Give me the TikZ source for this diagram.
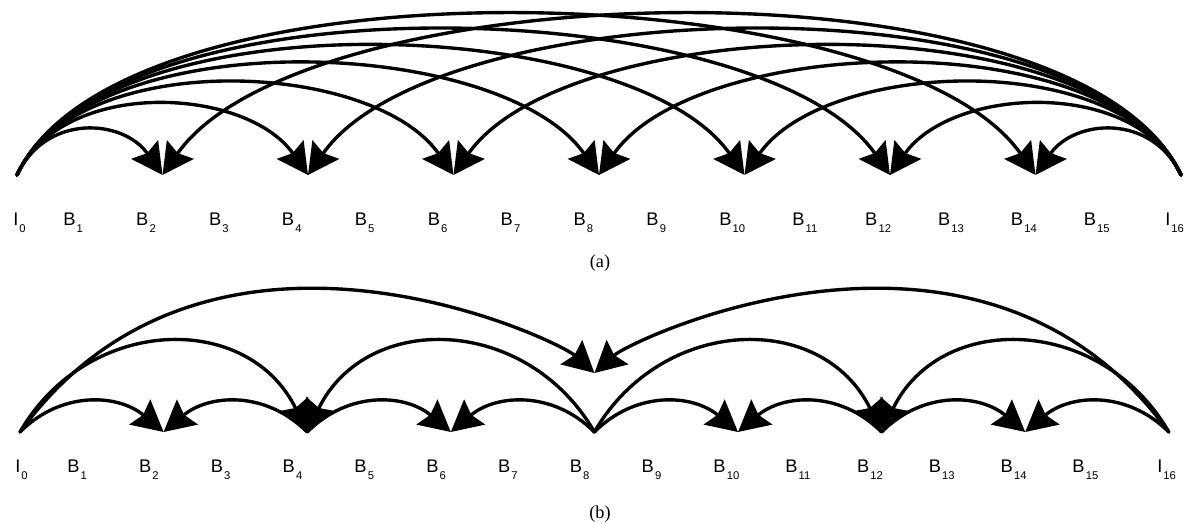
\documentclass[tikz,border=0pt]{standalone}
\usepackage{fontspec}
\setmainfont{Liberation Serif}
\newfontfamily\labelfont{Liberation Sans}
\usepackage{tikz}
\usetikzlibrary{arrows.meta}
\newcommand{\idx}[1]{\kern0.8pt\raisebox{-5pt}{\fontsize{8pt}{9pt}\selectfont #1}}

\begin{document}
\begin{tikzpicture}[x=0.025cm, y=0.025cm,
    predarr/.style={-{Stealth[length=22pt, width=23pt, inset=3pt]}, line width=2.4pt, line cap=round},
    lbl/.style={font=\labelfont\fontsize{13pt}{14pt}\selectfont, anchor=base west, inner sep=0pt},
    subcap/.style={font=\fontsize{13pt}{14pt}\selectfont, anchor=base, inner sep=0pt}
  ]
  \useasboundingbox (0,0) rectangle (1193,522);

  % (a) every B_k referenced from both I frames
  \foreach \k in {0,...,16}
    \coordinate (a\k) at ({17+72.75*\k}, 347);
  \foreach \k in {2,4,...,14}{
    \pgfmathsetmacro\L{28*pow(\k,0.66)/0.647}
    \pgfmathsetmacro\R{28*pow(16-\k,0.66)/0.647}
    \draw[predarr] (a0)  .. controls +(65:\L)  and +(125:\L) .. (a\k);
    \draw[predarr] (a16) .. controls +(115:\R) and +(55:\R)  .. (a\k);
  }

  \node[lbl] (lA0) at (13,297) {I\idx{0}};
  \foreach \k in {1,...,15}
    \node[lbl] (lA\k) at ({63+72.9*(\k-1)}, 297) {B\idx{\k}};
  \node[lbl] (lA16) at (1165,297) {I\idx{16}};
  \node[subcap] (capA) at (600,255) {(a)};

  % (b) hierarchical
  \foreach \k in {0,...,16}
    \coordinate (b\k) at ({20+71.8*\k}, 90);
  \coordinate (b8top) at ({20+71.8*8}, 149);

  \foreach \s/\t in {0/2, 4/6, 8/10, 12/14}
    \draw[predarr] (b\s) .. controls +(45:59) and +(140:59) .. (b\t);
  \foreach \s/\t in {4/2, 8/6, 12/10, 16/14}
    \draw[predarr] (b\s) .. controls +(135:59) and +(40:59) .. (b\t);

  \foreach \s/\t in {0/4, 8/12}
    \draw[predarr] (b\s) .. controls +(60:135) and +(116:135) .. (b\t);
  \foreach \s/\t in {8/4, 16/12}
    \draw[predarr] (b\s) .. controls +(120:135) and +(64:135) .. (b\t);

  \draw[predarr] (b0)  .. controls +(54:320)  and +(138:50) .. (b8top);
  \draw[predarr] (b16) .. controls +(126:320) and +(42:50)  .. (b8top);

  \node[lbl] (lB0) at (15,50) {I\idx{0}};
  \foreach \k in {1,...,15}
    \node[lbl] (lB\k) at ({67+71.8*(\k-1)}, 50) {B\idx{\k}};
  \node[lbl] (lB16) at (1157,50) {I\idx{16}};
  \node[subcap] (capB) at (600,4) {(b)};
\end{tikzpicture}
\end{document}
